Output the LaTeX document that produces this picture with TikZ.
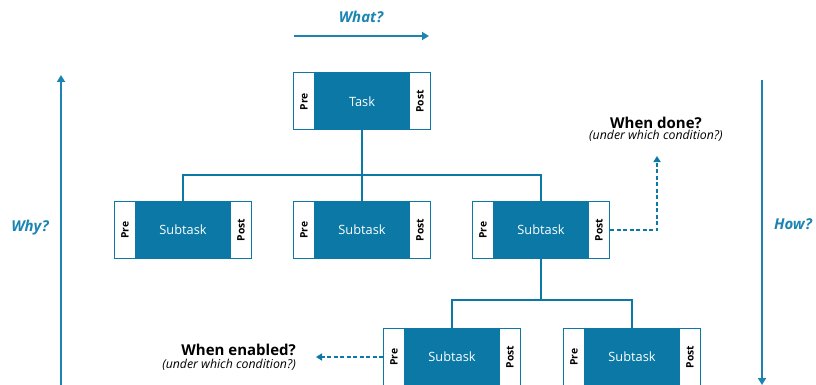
\documentclass[tikz,border=0pt]{standalone}
\usepackage{fontspec}
\setmainfont{Open Sans}
\usetikzlibrary{positioning, arrows.meta}

\definecolor{taskblue}{HTML}{0B78A6}
\definecolor{askblue}{HTML}{1C84B2}

\tikzset{
  core/.style={draw=taskblue, line width=1pt, fill=taskblue, text=white,
    minimum width=93pt, minimum height=57pt, inner sep=0pt,
    font=\fontsize{12.8}{15}\selectfont},
  side/.style={draw=taskblue, line width=1pt, fill=white,
    minimum width=21pt, minimum height=57pt, inner sep=0pt,
    font=\bfseries\fontsize{10.3}{12}\selectfont},
  link/.style={taskblue, line width=1.7pt},
  hint/.style={taskblue, line width=1.5pt, dash pattern=on 4pt off 2.5pt,
    -{Triangle[length=6pt,width=7pt]}},
  axis/.style={askblue, line width=1.8pt, -{Triangle[length=7pt,width=8pt]}},
  ask/.style={askblue, font=\bfseries\itshape\fontsize{15}{18}\selectfont},
  asktitle/.style={font=\bfseries\fontsize{15}{18}\selectfont, inner sep=0pt},
  asknote/.style={font=\itshape\fontsize{12.3}{14}\selectfont, inner sep=0pt},
}

\begin{document}
\begin{tikzpicture}[x=1pt, y=-1pt]
  \useasboundingbox (0,0) rectangle (816,385);

  % top task
  \node[core] (task) at (362,101.5) {Task};
  \node[side, left=0pt of task] (taskpre) {\rotatebox{90}{Pre}};
  \node[side, right=0pt of task] (taskpost) {\rotatebox{90}{Post}};

  % first level subtasks
  \node[core] (sub1) at (183,230) {Subtask};
  \node[side, left=0pt of sub1] (sub1pre) {\rotatebox{90}{Pre}};
  \node[side, right=0pt of sub1] (sub1post) {\rotatebox{90}{Post}};
  \node[core] (sub2) at (362,230) {Subtask};
  \node[side, left=0pt of sub2] (sub2pre) {\rotatebox{90}{Pre}};
  \node[side, right=0pt of sub2] (sub2post) {\rotatebox{90}{Post}};
  \node[core] (sub3) at (541,230) {Subtask};
  \node[side, left=0pt of sub3] (sub3pre) {\rotatebox{90}{Pre}};
  \node[side, right=0pt of sub3] (sub3post) {\rotatebox{90}{Post}};

  % second level subtasks
  \node[core] (sub4) at (452,357) {Subtask};
  \node[side, left=0pt of sub4] (sub4pre) {\rotatebox{90}{Pre}};
  \node[side, right=0pt of sub4] (sub4post) {\rotatebox{90}{Post}};
  \node[core] (sub5) at (632,357) {Subtask};
  \node[side, left=0pt of sub5] (sub5pre) {\rotatebox{90}{Pre}};
  \node[side, right=0pt of sub5] (sub5post) {\rotatebox{90}{Post}};

  % tree lines
  \coordinate (split1) at (362,175);
  \draw[link] (task.south) -- (split1);
  \draw[link] (split1) -| (sub1.north);
  \draw[link] (split1) -| (sub3.north);
  \draw[link] (split1) -- (sub2.north);
  \coordinate (split2) at (541,300);
  \draw[link] (sub3.south) -- (split2);
  \draw[link] (split2) -| (sub4.north);
  \draw[link] (split2) -| (sub5.north);

  % conditions
  \coordinate (donetip) at (657,156);
  \draw[hint] (sub3post.east) -| (donetip);
  \node[asktitle] (done) at (656,123) {When done?};
  \node[asknote] (donenote) at (656,136) {(under which condition?)};
  \coordinate (enabledtip) at (316,357);
  \draw[hint] (sub4pre.west) -- (enabledtip);
  \node[asktitle, anchor=east] (enabled) at (296,350) {When enabled?};
  \node[asknote, anchor=east] (enablednote) at (296,365) {(under which condition?)};

  % axes
  \coordinate (whatstart) at (294,36);
  \coordinate (whatend) at (429,36);
  \draw[axis] (whatstart) -- (whatend);
  \node[ask] (what) at (361,17) {What?};
  \coordinate (whystart) at (61,386);
  \coordinate (whyend) at (61,75);
  \draw[axis] (whystart) -- (whyend);
  \node[ask] (why) at (30,228) {Why?};
  \coordinate (howstart) at (762,80);
  \coordinate (howend) at (762,385);
  \draw[axis] (howstart) -- (howend);
  \node[ask] (how) at (793,224) {How?};
\end{tikzpicture}
\end{document}
